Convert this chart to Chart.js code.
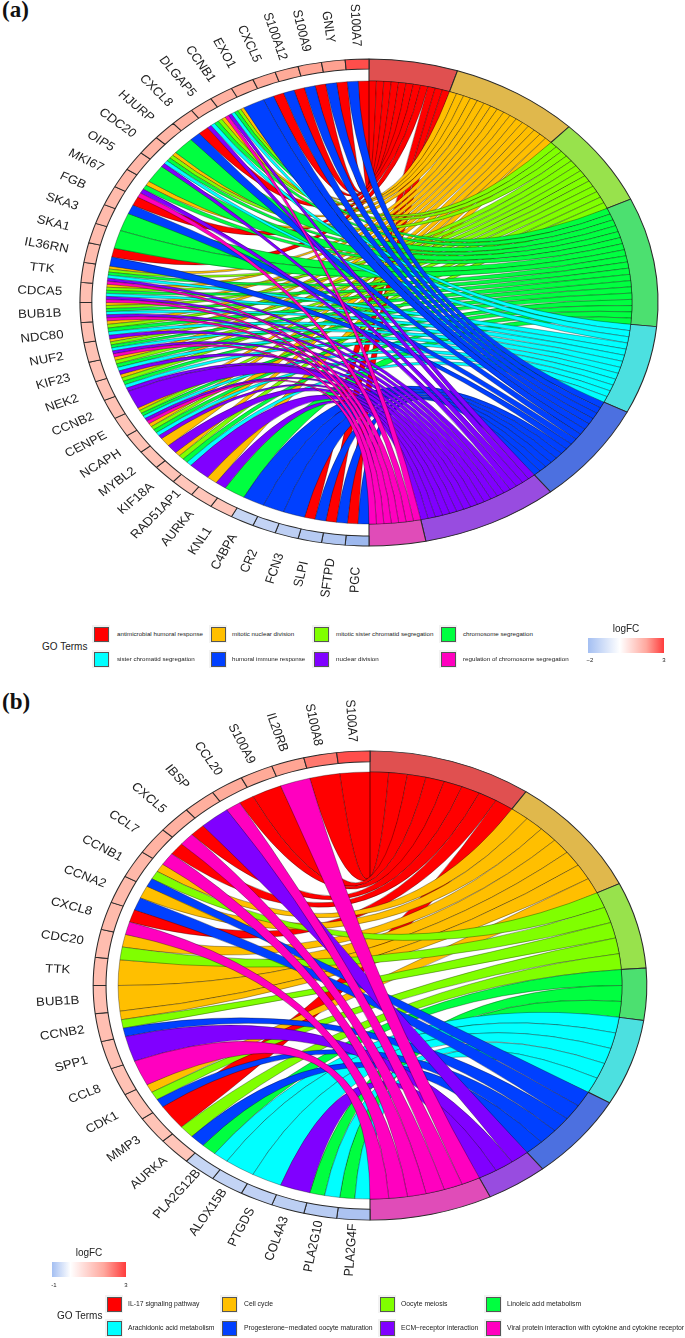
<!DOCTYPE html>
<html lang="en">
<head>
<meta charset="UTF-8">
<title>GO chord plots</title>
<script src="https://cdn.jsdelivr.net/npm/chart.js"></script>
<style>
  html, body { margin: 0; background: #fff; }
  body { position: relative; width: 685px; height: 1338px; overflow: hidden; font-family: "Liberation Sans", Arial, sans-serif; color: #222; }
  canvas { position: absolute; left: 0; }
  .abs { position: absolute; white-space: nowrap; }
  .panel { font: bold 23px "Liberation Serif", serif; color: #111; left: 2px; }
  .key { position: absolute; width: 18px; height: 18px; background: #f2f2f2; }
  .key i { position: absolute; left: 1.5px; top: 1.5px; width: 13px; height: 13px; border: 1px solid #555; display: block; }
  .bar { position: absolute; }
</style>
</head>
<body>
<div class="abs panel" style="top:-3px">(a)</div>
<div class="abs panel" style="top:689px">(b)</div>
<canvas id="chordA" width="685" height="605" style="top:0"></canvas>
<canvas id="chordB" width="685" height="651" style="top:660px"></canvas>
<div id="legends"></div>
<script>
// term colours are the same rainbow in both panels
const ribbonColors = ['#ff0000','#ffbf00','#80ff00','#00ff40','#00ffff','#0040ff','#8000ff','#ff00bf']
const ringColors = ['#e05050','#e0b84c','#98e24c','#4ce070','#4ce0e0','#4c70e0','#984ce0','#e04cb8']

const termsA = ['antimicrobial humoral response','mitotic nuclear division','mitotic sister chromatid segregation','chromosome segregation','sister chromatid segregation','humoral immune response','nuclear division','regulation of chromosome segregation']
const genesA = ['S100A7','GNLY','S100A9','S100A12','CXCL5','EXO1','CCNB1','DLGAP5','CXCL8','HJURP','CDC20','OIP5','MKI67','FGB','SKA3','SKA1','IL36RN','TTK','CDCA5','BUB1B','NDC80','NUF2','KIF23','NEK2','CCNB2','CENPE','NCAPH','MYBL2','KIF18A','RAD51AP1','AURKA','KNL1','C4BPA','CR2','FCN3','SLPI','SFTPD','PGC']
const logFCA = [2.8,1.9,1.85,1.8,1.75,1.7,1.65,1.6,1.6,1.55,1.55,1.5,1.5,1.45,1.45,1.4,1.4,1.4,1.35,1.35,1.35,1.3,1.3,1.3,1.3,1.25,1.25,1.25,1.25,1.2,1.2,1.2,-1.0,-1.05,-1.15,-1.25,-1.4,-1.7]
// term indexes linked to each gene, same order as genesA
const linksA = [[0,5],[0,5],[0,5],[0,5],[0,5],[5],[1,2,3,4,6,7],[1,2,3,4,6],[0,5],[3],[1,2,3,4,6],[3],[1,3,6,7],[0,5],[3],[3],[0,5],[1,2,3,4,6,7],[1,2,3,4,6,7],[1,2,3,4,6,7],[1,2,3,4,6],[1,2,3,4,6,7],[1,2,3,4,6],[1,2,3,4,6],[6],[1,2,3,4,6,7],[1,2,3,4,6],[1,6],[1,2,3,4],[6],[1,6],[3],[5],[5],[5],[0,5],[0,5],[0,5]]

const termsB = ['IL-17 signaling pathway','Cell cycle','Oocyte meiosis','Linoleic acid metabolism','Arachidonic acid metabolism','Progesterone\u2212mediated oocyte maturation','ECM\u2212receptor interaction','Viral protein interaction with cytokine and cytokine receptor']
const genesB = ['S100A7','S100A8','IL20RB','S100A9','CCL20','IBSP','CXCL5','CCL7','CCNB1','CCNA2','CXCL8','CDC20','TTK','BUB1B','CCNB2','SPP1','CCL8','CDK1','MMP3','AURKA','PLA2G12B','ALOX15B','PTGDS','COL4A3','PLA2G10','PLA2G4F']
const logFCB = [2.8,2.35,1.85,1.8,1.75,1.7,1.65,1.6,1.5,1.45,1.45,1.4,1.4,1.35,1.35,1.3,1.3,1.25,1.25,1.2,-0.5,-0.52,-0.55,-0.58,-0.62,-0.72]
const linksB = [[0],[0],[7],[0],[0,7],[6],[0,7],[0,7],[1,2,5],[1,5],[0,7],[1,2],[1],[1],[1,2,5],[6],[7],[1,2,5],[0],[2,5],[3,4],[4],[4],[6],[3,4],[3,4]]

const mix = (stops, t) => {
  for (let i = 1; i < stops.length; i++) {
    if (t <= stops[i][0]) {
      const a = stops[i-1], b = stops[i], k = (t-a[0])/(b[0]-a[0])
      return `rgb(${[1,2,3].map(c => Math.round(a[c]+(b[c]-a[c])*k)).join(',')})`
    }
  }
  return `rgb(${stops[stops.length-1].slice(1).join(',')})`
}
const geneColor = (v, lo, hi) => v >= 0
  ? mix([[0,255,255,255],[.6,255,170,152],[1,255,60,60]], v/hi)
  : mix([[0,255,255,255],[1,140,172,235]], v/lo)

// ellipse, ribbons and gene names; the original figure is stretched sideways
const chordPlugin = {
  id: 'chord',
  afterDatasetsUpdate(chart) {
    const o = chart.options.plugins.chord
    chart.getDatasetMeta(0).data.forEach((arc, i) => {
      if (i >= 8) arc.innerRadius = o.geneInner
    })
  },
  beforeDatasetsDraw(chart) {
    const ctx = chart.ctx, o = chart.options.plugins.chord
    const first = chart.getDatasetMeta(0).data[0]
    ctx.save()
    ctx.translate(first.x, first.y)
    ctx.scale(o.stretch, 1)
    ctx.translate(-first.x, -first.y)
  },
  afterDatasetsDraw(chart) {
    const ctx = chart.ctx, o = chart.options.plugins.chord
    const arcs = chart.getDatasetMeta(0).data
    const cx = arcs[0].x, cy = arcs[0].y, R = arcs[0].innerRadius
    const n = o.genes.length
    const count = o.terms.map((t, ti) => o.links.filter(l => l.includes(ti)).length)
    ctx.lineWidth = .45
    ctx.strokeStyle = 'rgba(0,0,0,.65)'
    o.terms.forEach((t, ti) => {
      const tArc = arcs[ti]
      const tw = (tArc.endAngle - tArc.startAngle) / count[ti]
      let k = 0
      o.links.forEach((list, gi) => {
        const j = list.indexOf(ti)
        if (j < 0) return
        // genes were put into the doughnut in reverse order
        const gArc = arcs[8 + n - 1 - gi]
        const gw = (gArc.endAngle - gArc.startAngle) / list.length
        const g1 = gArc.endAngle - j*gw, g2 = g1 - gw
        const t1 = tArc.startAngle + k*tw, t2 = t1 + tw
        ctx.beginPath()
        ctx.arc(cx, cy, R, g1, g2, true)
        ctx.quadraticCurveTo(cx, cy, cx + R*Math.cos(t2), cy + R*Math.sin(t2))
        ctx.arc(cx, cy, R, t2, t1, true)
        ctx.quadraticCurveTo(cx, cy, cx + R*Math.cos(g1), cy + R*Math.sin(g1))
        ctx.closePath()
        ctx.fillStyle = ribbonColors[ti]
        ctx.fill()
        ctx.stroke()
        k++
      })
    })
    ctx.restore()

    // names are centred on a ring outside the cells
    ctx.fillStyle = '#222'
    ctx.font = '12px "Liberation Sans", Arial, sans-serif'
    ctx.textAlign = 'center'
    ctx.textBaseline = 'middle'
    const textStretch = 1.1
    const r = arcs[0].outerRadius * o.labelRing
    o.genes.forEach((g, gi) => {
      const th = (gi + .5) * Math.PI / n
      ctx.save()
      ctx.translate(cx - r*Math.sin(th)*o.stretch, cy - r*Math.cos(th))
      ctx.scale(textStretch, 1)
      ctx.rotate(Math.atan2(Math.cos(th), Math.sin(th)*o.stretch/textStretch))
      ctx.fillText(g, 0, 0)
      ctx.restore()
    })
  }
}

const drawChord = (id, terms, genes, logFC, links, o) => {
  const count = terms.map((t, ti) => links.filter(l => l.includes(ti)).length)
  const total = count.reduce((a, b) => a + b, 0)
  const revGenes = genes.slice().reverse()
  const revFC = logFC.slice().reverse()
  return new Chart(document.getElementById(id), {
    type: 'doughnut',
    data: {
      labels: terms.concat(revGenes),
      datasets: [{
        data: count.map(c => c/total).concat(revGenes.map(() => 1/genes.length)),
        backgroundColor: ringColors.concat(revFC.map(v => geneColor(v, o.lo, o.hi))),
        borderColor: '#2a2a2a',
        borderWidth: .9,
        hoverOffset: 0,
        clip: false
      }]
    },
    options: {
      responsive: false,
      animation: false,
      radius: o.outer,
      cutout: (o.inner / o.outer * 100) + '%',
      layout: { padding: { left: o.padLeft } },
      events: [],
      plugins: {
        legend: { display: false },
        tooltip: { enabled: false },
        chord: { terms, genes, links, stretch: o.stretch, geneInner: o.geneInner, labelRing: o.labelRing }
      }
    },
    plugins: [chordPlugin]
  })
}

drawChord('chordA', termsA, genesA, logFCA, linksA, { outer: 243.5, inner: 221.5, geneInner: 233.5, stretch: 1.187, padLeft: 53, lo: -2, hi: 3, labelRing: 1.14 })
drawChord('chordB', termsB, genesB, logFCB, linksB, { outer: 234.6, inner: 213.5, geneInner: 223.7, stretch: 1.18, padLeft: 55, lo: -1, hi: 3, labelRing: 1.13 })

// legends are plain html next to the charts
const legendBox = document.getElementById('legends')
const addText = (txt, x, y, size, center) => {
  const d = document.createElement('div')
  d.className = 'abs'
  d.textContent = txt
  d.style.cssText = `left:${x}px;top:${y}px;font-size:${size}px;line-height:1;transform:translateY(-50%)${center ? ' translateX(-50%)' : ''}`
  legendBox.appendChild(d)
}
const addKeys = (terms, swatchX, textX, rows, size) => {
  terms.forEach((t, i) => {
    const col = i % 4, y = rows[Math.floor(i/4)]
    const k = document.createElement('div')
    k.className = 'key'
    k.style.left = (swatchX[col] - 9) + 'px'
    k.style.top = (y - 9) + 'px'
    k.innerHTML = `<i style="background:${ribbonColors[i]}"></i>`
    legendBox.appendChild(k)
    addText(t, textX[col], y, size)
  })
}
const addBar = (x, y, w, h, whiteAt, tickLo, tickHi, tickY) => {
  const b = document.createElement('div')
  b.className = 'bar'
  b.style.cssText = `left:${x}px;top:${y}px;width:${w}px;height:${h}px;background:linear-gradient(to right,#a4bff2,#ffffff ${whiteAt}%,#ffa89e ${whiteAt + (100-whiteAt)*.6}%,#ff3c3c)`
  legendBox.appendChild(b)
  addText('logFC', x + w/2, y - 9, 10, true)
  addText(tickLo, x + 2, tickY, 6, true)
  addText(tickHi, x + w, tickY, 6, true)
}

addText('GO Terms', 42, 647, 10)
addKeys(termsA, [101,218,321,448], [117,232,336,463], [634,659], 6.2)
addBar(588, 638, 76, 15, 42, '\u22122', '3', 660)

addText('GO Terms', 57, 1316, 10)
addKeys(termsB, [114,229,387,493], [128,244,401,507], [1304,1328], 6.8)
addBar(52, 1262, 74, 15, 25, '-1', '3', 1285)
</script>
</body>
</html>
